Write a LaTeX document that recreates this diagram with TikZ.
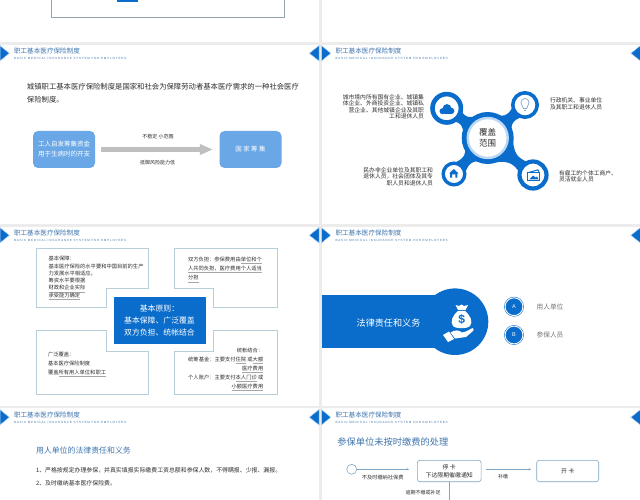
\documentclass[tikz,border=0pt]{standalone}
\usepackage{fontspec}
\setmainfont{Noto Sans CJK SC}
\newfontfamily\latinfont{Liberation Sans}
\usetikzlibrary{arrows.meta}
\usetikzlibrary{calc}
\definecolor{slideblue}{HTML}{0A6CCB}
\definecolor{boxblue}{HTML}{69A7E6}
\definecolor{paleblue}{HTML}{BBD9F5}
\definecolor{headblue}{HTML}{3F75AD}
\definecolor{bandgray}{HTML}{ECECEC}
\definecolor{framegray}{HTML}{B7CEDA}
\definecolor{flowblue}{HTML}{7FA6C4}
\definecolor{bodygray}{HTML}{2E2E2E}
\newcommand{\faintline}[1]{{\color{black!35}\underline{\color{bodygray}#1}}}
\tikzset{
    plain/.style={inner sep=0pt, outer sep=0pt},
    headtitle/.style={plain, anchor=west, text=headblue, font=\fontsize{6.6}{8}\selectfont},
    headeng/.style={plain, anchor=west, text=headblue, font=\fontsize{3}{3}\latinfont\addfontfeature{LetterSpace=27}},
    bodytext/.style={plain, text=bodygray, font=\fontsize{5.28}{7.3}\selectfont},
    looptext/.style={plain, text=bodygray, font=\fontsize{5.8}{6.6}\selectfont},
    sourcebox/.style={plain, fill=boxblue, rounded corners=5pt, minimum width=62pt, minimum height=37pt, text=white, align=center, font=\fontsize{6.5}{10}\selectfont},
    flowbox/.style={plain, draw=flowblue, line width=.6pt, fill=white, rounded corners=2.5pt, text=bodygray, align=center, font=\fontsize{5.9}{8.3}\selectfont},
    flowline/.style={draw=flowblue, line width=.6pt, -{Stealth[length=2.4pt,width=2.4pt]}},
    frameline/.style={draw=framegray, line width=.8pt, line join=miter},
    satring/.style={plain, circle, draw=slideblue, fill=white},
    letterdisc/.style={plain, circle, minimum size=17.8pt, fill=slideblue, draw=slideblue, double=white, double distance=.9pt, line width=.5pt, text=white, font=\fontsize{5.5}{6}\latinfont},
}
\begin{document}
\begin{tikzpicture}[x=1pt,y=-1pt]
    \useasboundingbox (0,0) rectangle (640,500);
    \fill[white] (0,0) rectangle (640,500);
    % bands between the slides
    \fill[bandgray] (319,0) rectangle (321.7,500);
    \fill[bandgray] (0,42.3) rectangle (640,45);
    \fill[bandgray] (0,223.7) rectangle (640,226.5);
    \fill[bandgray] (0,405.8) rectangle (640,408.3);
    % slide headers
    \foreach \hx/\hy/\hname in {0/0/a,321.5/0/b,0/182/c,321.5/182/d,0/364/e,321.5/364/f}{
        \filldraw[slideblue, draw=paleblue, line width=.5pt] (\hx,\hy+45.5) -- (\hx+9.3,\hy+53.3) -- (\hx,\hy+61) -- cycle;
        \filldraw[slideblue, draw=paleblue, line width=.5pt] (\hx+319,\hy+45.5) -- (\hx+309.3,\hy+53.3) -- (\hx+319,\hy+61) -- cycle;
        \node[headtitle] (title\hname) at (\hx+14,\hy+51.3) {职工基本医疗保险制度};
        \node[headeng] (eng\hname) at (\hx+14,\hy+58.4) {BASIC MEDICAL INSURANCE SYSTEM FOR EMPLOYEES};
    }

    % remainder of the slide above
    \draw[frameline, draw=framegray!80!black] (51.5,-5) rectangle (284,17);
    \fill[slideblue] (117,-2) rectangle (138,2);

    % definition slide
    \node[plain, anchor=north west, text=bodygray, align=left, font=\fontsize{7.35}{12.6}\selectfont] (intro) at (27,83.5) {城镇职工基本医疗保险制度是国家和社会为保障劳动者基本医疗需求的一种社会医疗\\保险制度。};
    \node[sourcebox] (selfbox) at (64,149.5) {工人自发筹集资金\\用于生病时的开支};
    \node[sourcebox] (statebox) at (250.5,149.5) {国 家 筹 集};
    \draw[draw=black!25, line width=5pt, shorten <=6pt, shorten >=6.6pt, -{Triangle[length=13pt,width=10pt]}] (selfbox) -- (statebox);
    \node[plain, text=bodygray, font=\fontsize{5}{6}\selectfont] (unstable) at (158,136.5) {不稳定 小范围};
    \node[plain, text=bodygray, font=\fontsize{5}{6}\selectfont] (weak) at (157.5,163) {抵御风险能力低};

    % coverage slide
    \newcommand{\hubx}{487.7}
    \newcommand{\huby}{138}
    \foreach \sang/\sdist/\srad in {144/50.6/14,41.5/49.8/12,226.9/49.3/11,-39.2/58.5/13}{
        \begin{scope}[shift={(\hubx,\huby)}, rotate=\sang]
            \fill[slideblue] (17,-19) .. controls (0.5*\sdist,-4) and (0.6*\sdist,-3) .. (\sdist-\srad+2,-7) -- (\sdist-\srad+2,7) .. controls (0.6*\sdist,3) and (0.5*\sdist,4) .. (17,19) -- cycle;
        \end{scope}
    }
    \node[plain, circle, fill=slideblue, minimum size=52pt] (hubouter) at (\hubx,\huby) {};
    \node[plain, circle, fill=white, draw=paleblue, line width=2.4pt, minimum size=40pt, align=center, text=bodygray, font=\fontsize{8.5}{11.4}\selectfont] (hub) at (\hubx,\huby) {覆盖\\范围};
    \node[satring, line width=4.6pt, minimum size=28.4pt] (cloudring) at (446.7,108.3) {};
    \node[satring, line width=3.6pt, minimum size=24.4pt] (bulbring) at (525,105) {};
    \node[satring, line width=3.4pt, minimum size=21.6pt] (homering) at (454,174) {};
    \node[satring, line width=4.2pt, minimum size=27pt] (cardring) at (533,175) {};
    % icons
    \fill[slideblue] (442.5,111.2) circle (3);
    \fill[slideblue] (447,108.5) circle (4.4);
    \fill[slideblue] (451.2,110.9) circle (3.2);
    \fill[slideblue] (442.5,110) rectangle (451.2,114.1);
    \draw[draw=flowblue, line width=.7pt] (523.3,108.5) .. controls (523,105.5) and (521,105.5) .. (521,102.5) arc (180:360:4) .. controls (529,105.5) and (527,105.5) .. (526.7,108.5) -- cycle;
    \draw[draw=flowblue, line width=.7pt] (523.6,110.3) -- (526.4,110.3);
    \fill[slideblue] (449,173.5) -- (453.8,169) -- (458.6,173.5) -- (457.4,173.5) -- (457.4,177.7) -- (455.4,177.7) -- (455.4,174.5) -- (452.2,174.5) -- (452.2,177.7) -- (450.2,177.7) -- (450.2,173.5) -- cycle;
    \draw[draw=slideblue, line width=1pt, line join=round] (527,173) -- (538,169.8) -- (539,172.2);
    \draw[draw=slideblue, line width=1pt, fill=white] (527.5,173) rectangle (539.8,180.5);
    \fill[slideblue] (529.5,179.3) -- (533,175.5) -- (535.5,177.5) -- (537,176.5) -- (538.5,179.3) -- cycle;
    % coverage texts
    \node[looptext, anchor=east, align=right] (statefirm) at (424,106.7) {城市境内所有国有企业、城镇集\\体企业、外商投资企业、城镇私\\营企业、其他城镇企业及其职\\工和退休人员};
    \node[looptext, anchor=west, align=left] (govunit) at (550,103.8) {行政机关、事业单位\\及其职工和退休人员};
    \node[looptext, anchor=east, align=right] (nonprofit) at (433,176.7) {民办非企业单位及其职工和\\退休人员，社会团体及其专\\职人员和退休人员};
    \node[looptext, anchor=west, align=left] (selfjob) at (559,176.2) {有雇工的个体工商户、\\灵活就业人员};

    % principles slide
    \draw[frameline] (36.5,248.5) -- (148.5,248.5) -- (148.5,288.3) -- (106.5,288.3) -- (106.5,307.3) -- (36.5,307.3) -- cycle;
    \draw[frameline] (174,248.5) -- (277.5,248.5) -- (277.5,307.3) -- (213,307.3) -- (213,288.3) -- (174,288.3) -- cycle;
    \draw[frameline] (36.5,330.7) -- (106.5,330.7) -- (106.5,351.3) -- (148.5,351.3) -- (148.5,394.5) -- (36.5,394.5) -- cycle;
    \draw[frameline] (213,330.7) -- (277.5,330.7) -- (277.5,394.5) -- (174,394.5) -- (174,351.3) -- (213,351.3) -- cycle;
    \node[plain, fill=slideblue, minimum width=92pt, minimum height=47pt, text=white, align=center, font=\fontsize{7.85}{12}\selectfont] (principle) at (159.5,320.2) {基本原则：\\基本保障、广泛覆盖\\双方负担、统帐结合};
    \node[bodytext, anchor=west, align=left] (basic) at (48.5,278) {基本保障：\\基本医疗保险的水平要和中国目前的生产\\力发展水平相适应。\\筹资水平要根据\\\faintline{财政和企业实际}\\\faintline{承受能力确定}};
    \node[bodytext, anchor=west, align=left, font=\fontsize{5.28}{9.4}\selectfont] (both) at (188,269.5) {双方负担：参保费用由\faintline{单位和个}\\\faintline{人共同负担，医疗费用个人适当}\\\faintline{分担}};
    \node[bodytext, anchor=west, align=left, font=\fontsize{5.28}{9}\selectfont] (wide) at (48,364) {广泛覆盖：\\基本医疗保险制度\\覆盖\faintline{所有用人单位和职工}};
    \node[bodytext, anchor=east, align=right, font=\fontsize{5.28}{9}\selectfont] (pooling) at (263.3,369) {统帐结合：\ \\统筹基金：主要支付\faintline{住院} 或\faintline{大额}\\\faintline{医疗费用}\\个人账户：主要支付\faintline{本人门诊} 或\\\faintline{小额医疗费用}};

    % legal duty slide
    \fill[slideblue] (321.7,295) rectangle (455,348.3);
    \node[plain, circle, fill=slideblue, minimum size=66.6pt] (dutydisc) at (455,321.7) {};
    \node[plain, text=white, font=\fontsize{9.1}{10}\selectfont] (dutytext) at (388.5,323) {法律责任和义务};
    \fill[white] (455.5,305) -- (459,306) -- (461.5,304.5) -- (464,306) -- (468,305) -- (465.5,310) -- (458,310) -- cycle;
    \fill[white] (458,311) .. controls (452,316) and (450,322) .. (453,326) .. controls (456,329) and (467,329) .. (470,326) .. controls (473,322) and (471,316) .. (465,311) -- cycle;
    \node[plain, text=slideblue, font=\fontsize{12}{12}\latinfont\bfseries] (dollar) at (461.7,319.5) {\$};
    \fill[white] (443,335) -- (449,331.5) -- (454,339) -- (448,342) -- cycle;
    \fill[white] (450.5,332.5) .. controls (455,329.5) and (459,330) .. (462,332.5) -- (466,331.5) -- (472.5,328) .. controls (474,328.5) and (474,330) .. (473,331) -- (466,337) -- (455,338.5) -- cycle;
    \node[letterdisc] (letterA) at (514,306.7) {A};
    \node[letterdisc] (letterB) at (514,335) {B};
    \node[plain, text=black!55, font=\fontsize{6.67}{8}\selectfont] (employer) at (550,307) {用人单位};
    \node[plain, text=black!55, font=\fontsize{6.67}{8}\selectfont] (insured) at (550,335) {参保人员};

    % duty list slide
    \node[plain, anchor=west, text=headblue, font=\fontsize{7.9}{9}\selectfont] (dutyhead) at (36,450.7) {用人单位的法律责任和义务};
    \node[plain, anchor=west, text=bodygray, font=\fontsize{5.9}{7}\selectfont] (dutyone) at (36,470) {1、严格按规定办理参保，并真实填报实际缴费工资总额和参保人数，不得瞒报、少报、漏报。};
    \node[plain, anchor=west, text=bodygray, font=\fontsize{5.9}{7}\selectfont] (dutytwo) at (36,483.7) {2、及时缴纳基本医疗保险费。};

    % overdue flow slide
    \node[plain, anchor=west, text=headblue, font=\fontsize{9.25}{10}\selectfont] (flowhead) at (337.3,441.7) {参保单位未按时缴费的处理};
    \node[plain, circle, draw=flowblue, line width=.6pt, fill=white, minimum size=10pt] (startdot) at (351.7,469.3) {};
    \node[flowbox, minimum width=63.7pt, minimum height=21.4pt] (stopcard) at (449.2,471) {停 卡\\下达限期催缴通知};
    \node[flowbox, minimum width=62pt, minimum height=21.4pt] (opencard) at (567.7,471) {开 卡};
    \coordinate (stopin) at (409,469.3);
    \coordinate (reopen) at (531,469.3);
    \coordinate (stopout) at (486,469.3);
    \coordinate (flowend) at (449.2,500);
    \draw[flowline] (startdot) -- (stopin);
    \draw[flowline] (stopout) -- (reopen);
    \draw[draw=flowblue, line width=.6pt] (stopcard) -- (flowend);
    \node[plain, text=bodygray, font=\fontsize{5.2}{6}\selectfont] (latepay) at (382.7,477.3) {不及时缴纳社保费};
    \node[plain, text=bodygray, font=\fontsize{5}{6}\selectfont] (repay) at (503,476.7) {补缴};
    \node[plain, text=bodygray, font=\fontsize{5}{6}\selectfont] (overdue) at (423,493) {逾期不缴或补足};
\end{tikzpicture}
\end{document}
